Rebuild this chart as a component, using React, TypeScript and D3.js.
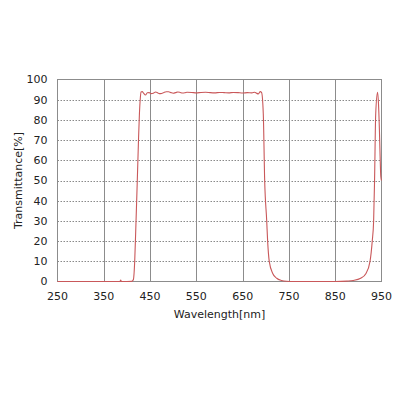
import { useEffect } from "react";
import * as d3 from "d3";

// spectrum, nm vs %
const WAVELENGTHS = [
  250, 300, 350, 380, 385, 386.5, 388, 400, 410, 412, 414, 416.8, 419, 422.4, 425, 427, 429, 430.5,
  433, 436, 440, 444, 448, 452, 457, 462, 466, 470, 475, 480, 485, 490, 495, 500, 505, 510, 515,
  520, 525, 530, 540, 550, 560, 570, 580, 590, 600, 610, 620, 630, 640, 650, 660, 670, 676, 680,
  684, 688, 691, 694.6, 697.6, 702, 704, 707.5, 715, 723.6, 734, 745, 760, 800, 850, 875, 889,
  905, 916.5, 925.2, 930, 933, 935, 937.5, 941.5, 943.5, 945.5, 947, 948.5, 950,
];
const TRANSMITTANCE = [
  0, 0, 0, 0, 0, 0.7, 0, 0, 0.05, 0.3, 1, 10, 25, 50, 70, 83, 91, 93.8,
  94, 93.2, 92.3, 93.4, 93.5, 93.0, 93.2, 93.8, 93.5, 93.0, 93.1, 93.6, 93.9, 93.9, 93.5, 93.2, 93.5, 93.8, 93.6,
  93.3, 93.4, 93.7, 93.6, 93.4, 93.6, 93.7, 93.5, 93.4, 93.6, 93.5, 93.4, 93.6, 93.5, 93.3, 93.5, 93.4, 93.7, 93.2,
  92.9, 94.0, 93.5, 83, 50, 30, 20, 10, 4, 1.6, 0.5, 0.1, 0, 0, 0, 0.2, 0.5,
  1.6, 4, 10, 20, 30, 50, 83, 93.7, 88, 75, 62, 52, 50,
];

const X_TICKS = [250, 350, 450, 550, 650, 750, 850, 950];
const Y_TICKS = [0, 10, 20, 30, 40, 50, 60, 70, 80, 90, 100];

const W = 400;
const H = 400;
const m = { top: 79.5, right: 18.5, bottom: 118.5, left: 57.5 };
const FONT = "DejaVu Sans, Verdana, sans-serif";

export default function App() {
  useEffect(() => {
    document.body.style.margin = "0";
  }, []);

  const x = d3.scaleLinear().domain([250, 950]).range([m.left, W - m.right]);
  const y = d3.scaleLinear().domain([0, 100]).range([H - m.bottom, m.top]);

  const pts = WAVELENGTHS.map((w, i) => [w, TRANSMITTANCE[i]] as [number, number]);
  const line = d3
    .line<[number, number]>()
    .x((d) => x(d[0]))
    .y((d) => y(d[1]))
    .curve(d3.curveMonotoneX);

  const x0 = x(250);
  const x1 = x(950);
  const y0 = y(0);
  const y1 = y(100);

  return (
    <svg width={W} height={H} style={{ display: "block", background: "#fff" }}>
      {/* horizontal dotted grid */}
      {Y_TICKS.filter((t) => t > 0 && t < 100).map((t) => (
        <line key={t} x1={x0} x2={x1} y1={Math.round(y(t)) + 0.5} y2={Math.round(y(t)) + 0.5}
          stroke="#8a8a8a" strokeDasharray="1.5 1.5" strokeWidth={1} />
      ))}
      {/* vertical solid grid */}
      {X_TICKS.filter((t) => t > 250 && t < 950).map((t) => (
        <line key={t} x1={Math.round(x(t)) + 0.5} x2={Math.round(x(t)) + 0.5} y1={y1} y2={y0}
          stroke="#8c8c8c" strokeWidth={1} />
      ))}
      <rect x={x0} y={y1} width={x1 - x0} height={y0 - y1} fill="none" stroke="#8c8c8c" strokeWidth={1} />

      <path d={line(pts)!} fill="none" stroke="#c9585a" strokeWidth={1.1} />

      {Y_TICKS.map((t) => (
        <text key={t} x={x0 - 10} y={y(t)} dy="0.36em" textAnchor="end" fontFamily={FONT}
          fontSize={11} fill="#222">{t}</text>
      ))}
      {X_TICKS.map((t) => (
        <text key={t} x={x(t)} y={y0 + 15} dy="0.36em" textAnchor="middle" fontFamily={FONT}
          fontSize={11} fill="#222">{t}</text>
      ))}
      <text x={(x0 + x1) / 2} y={y0 + 33} dy="0.36em" textAnchor="middle" fontFamily={FONT}
        fontSize={11} fill="#222">Wavelength[nm]</text>
      <text transform={`translate(18,${(y0 + y1) / 2}) rotate(-90)`} dy="0.36em" textAnchor="middle"
        fontFamily={FONT} fontSize={11} fill="#222">Transmittance[%]</text>
    </svg>
  );
}
